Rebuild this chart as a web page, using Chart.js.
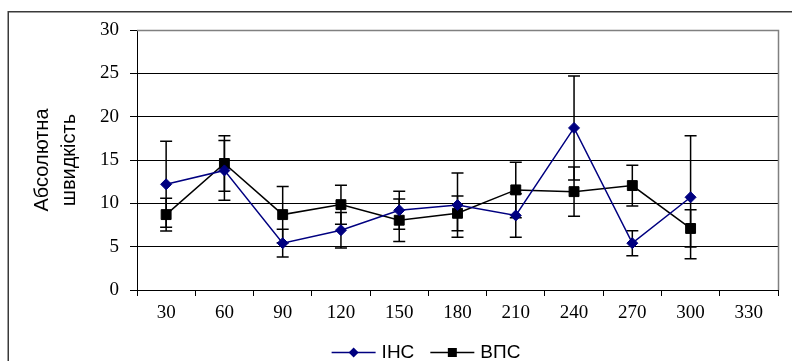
<!DOCTYPE html>
<html>
<head>
<meta charset="utf-8">
<script src="https://cdn.jsdelivr.net/npm/chart.js@4.4.1/dist/chart.umd.min.js"></script>
<style>
html,body{margin:0;padding:0;background:#fff;}
#wrap{width:792px;height:361px;position:relative;}
</style>
</head>
<body>
<div id="wrap"><canvas id="c"></canvas></div>
<script>
// ---- data ----
const categories = ['30','60','90','120','150','180','210','240','270','300','330'];
const seriesNames = ['ІНС','ВПС'];
const incValues = [12.2, 13.8, 5.4, 6.9, 9.2, 9.8, 8.6, 18.7, 5.4, 10.7, null];
const incErrors = [4.95, 3.45, 1.6, 2.05, 2.2, 3.7, 2.5, 6.0, 1.45, 7.1, null];
const vpsValues = [8.7, 14.6, 8.7, 9.85, 8.05, 8.85, 11.55, 11.35, 12.05, 7.1, null];
const vpsErrors = [1.9, 3.2, 3.25, 2.25, 2.45, 2.0, 3.2, 2.85, 2.35, 2.15, null];
const yTitleLines = ['Абсолютна', 'швидкість'];
const yMin = 0, yMax = 30, yStep = 5;

const errorSets = [incErrors, vpsErrors];
const SERIF = "'Liberation Serif', 'Times New Roman', serif";
const SANS = "'Liberation Sans', Arial, sans-serif";

const framePlugin = {
  id: 'frame',
  beforeDraw(chart) {
    const ctx = chart.ctx;
    ctx.save();
    ctx.fillStyle = '#fff';
    ctx.fillRect(0, 0, chart.width, chart.height);
    ctx.strokeStyle = '#3a3a3a';
    ctx.lineWidth = 1.5;
    ctx.strokeRect(8.25, 11.75, chart.width + 50, chart.height + 50);
    ctx.restore();
  }
};

const plotBorderPlugin = {
  id: 'plotBorder',
  beforeDatasetsDraw(chart) {
    const {ctx, chartArea: a} = chart;
    ctx.save();
    ctx.strokeStyle = '#808080';
    ctx.lineWidth = 1.5;
    ctx.beginPath();
    ctx.moveTo(a.left, a.top + 0.5);
    ctx.lineTo(a.right + 0.5, a.top + 0.5);
    ctx.lineTo(a.right + 0.5, a.bottom);
    ctx.stroke();
    ctx.restore();
  }
};

const errorBarPlugin = {
  id: 'errorBars',
  beforeDatasetsDraw(chart) {
    const ctx = chart.ctx;
    const xs = chart.scales.x, ys = chart.scales.y;
    ctx.save();
    ctx.strokeStyle = '#000';
    ctx.lineWidth = 1.5;
    chart.data.datasets.forEach((ds, i) => {
      const errs = errorSets[i];
      ds.data.forEach((v, j) => {
        if (v == null || errs[j] == null) return;
        const x = xs.getPixelForValue(j);
        const yt = ys.getPixelForValue(v + errs[j]);
        const yb = ys.getPixelForValue(v - errs[j]);
        const cap = 6;
        ctx.beginPath();
        ctx.moveTo(x, yt); ctx.lineTo(x, yb);
        ctx.moveTo(x - cap, yt); ctx.lineTo(x + cap, yt);
        ctx.moveTo(x - cap, yb); ctx.lineTo(x + cap, yb);
        ctx.stroke();
      });
    });
    ctx.restore();
  }
};

const legendPlugin = {
  id: 'customLegend',
  afterDraw(chart) {
    const ctx = chart.ctx;
    ctx.save();
    ctx.font = '19px ' + SANS;
    ctx.textBaseline = 'alphabetic';
    ctx.textAlign = 'left';
    const sample = 44, gapText = 6, gapItem = 16;
    const widths = chart.data.datasets.map(ds => sample + gapText + ctx.measureText(ds.label).width);
    const total = widths.reduce((s, w) => s + w, 0) + gapItem * (widths.length - 1);
    let x = 426 - total / 2;
    const yLine = 352.5, yText = 357.5;
    chart.data.datasets.forEach((ds, i) => {
      ctx.strokeStyle = ds.borderColor;
      ctx.lineWidth = 1.5;
      ctx.beginPath();
      ctx.moveTo(x, yLine); ctx.lineTo(x + sample, yLine);
      ctx.stroke();
      const cx = x + sample / 2;
      ctx.fillStyle = ds.backgroundColor;
      ctx.beginPath();
      if (ds.pointStyle === 'rectRot') {
        const r = 5;
        ctx.moveTo(cx, yLine - r); ctx.lineTo(cx + r, yLine);
        ctx.lineTo(cx, yLine + r); ctx.lineTo(cx - r, yLine);
        ctx.closePath();
      } else {
        const s = 4.5;
        ctx.rect(cx - s, yLine - s, 2 * s, 2 * s);
      }
      ctx.fill();
      ctx.fillStyle = '#000';
      ctx.fillText(ds.label, x + sample + gapText, yText);
      x += widths[i] + gapItem;
    });
    ctx.restore();
  }
};

new Chart(document.getElementById('c'), {
  type: 'line',
  data: {
    labels: categories,
    datasets: [
      {
        label: seriesNames[0],
        data: incValues,
        borderColor: '#000080',
        backgroundColor: '#000080',
        borderWidth: 1.5,
        pointStyle: 'rectRot',
        pointRadius: 5.5,
        pointBorderWidth: 1,
        tension: 0
      },
      {
        label: seriesNames[1],
        data: vpsValues,
        borderColor: '#000000',
        backgroundColor: '#000000',
        borderWidth: 1.5,
        pointStyle: 'rect',
        pointRadius: 7,
        pointBorderWidth: 1,
        tension: 0
      }
    ]
  },
  options: {
    responsive: true,
    maintainAspectRatio: false,
    animation: false,
    events: [],
    layout: { padding: { top: 30, right: 14, bottom: 0, left: 0 } },
    plugins: {
      legend: { display: false },
      tooltip: { enabled: false },
      title: { display: false }
    },
    scales: {
      x: {
        type: 'category',
        offset: true,
        afterFit(scale) { scale.height = 71; },
        grid: {
          display: true,
          offset: true,
          drawOnChartArea: false,
          drawTicks: true,
          tickLength: 6,
          color: '#000',
          lineWidth: 1
        },
        border: { display: true, color: '#000', width: 1 },
        ticks: {
          color: '#000',
          font: { family: SERIF, size: 19 },
          padding: 6,
          maxRotation: 0,
          autoSkip: false
        }
      },
      y: {
        min: yMin,
        max: yMax,
        afterFit(scale) { scale.width = 137; },
        grid: {
          color: (c) => (c.tick && c.tick.value === yMax) ? '#808080' : '#000',
          tickColor: '#000',
          tickLength: 7,
          lineWidth: 1
        },
        border: { display: true, color: '#000', width: 1 },
        ticks: {
          stepSize: yStep,
          color: '#000',
          font: { family: SERIF, size: 19 },
          padding: 11
        },
        title: {
          display: true,
          text: yTitleLines,
          color: '#000',
          font: { family: SANS, size: 20, lineHeight: '27px' },
          padding: { top: 29, bottom: 0 }
        }
      }
    }
  },
  plugins: [framePlugin, plotBorderPlugin, errorBarPlugin, legendPlugin]
});
</script>
</body>
</html>
